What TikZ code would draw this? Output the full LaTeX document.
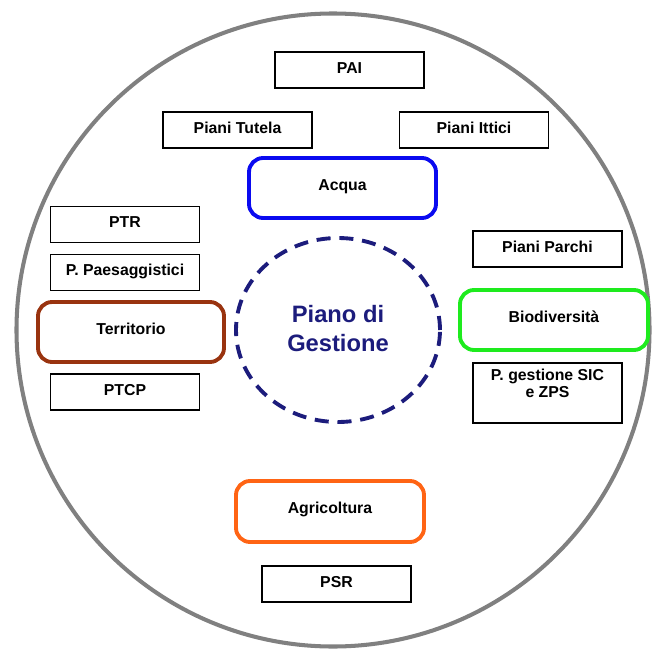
\documentclass[tikz,border=0pt]{standalone}
\usepackage{fontspec}
\setmainfont{Liberation Sans}

\begin{document}
\begin{tikzpicture}[
    plan/.style={draw=black, line width=0.8pt, minimum width=2.98cm, minimum height=0.72cm,
        font=\fontsize{9}{10.5}\selectfont\bfseries, text height=1.9ex, text depth=1.2ex, inner sep=0pt},
    sector/.style={rounded corners=8pt, line width=2.2pt, minimum width=3.74cm, minimum height=1.2cm,
        font=\fontsize{9}{10.5}\selectfont\bfseries, text height=1.9ex, text depth=1.4ex, inner sep=0pt}
]
    \definecolor{ring_gray}{HTML}{808080}
    \definecolor{plan_navy}{HTML}{1C1C7C}
    \definecolor{acqua_blue}{HTML}{0A0AF0}
    \definecolor{terr_brown}{HTML}{99330F}
    \definecolor{bio_green}{HTML}{1EEB1E}
    \definecolor{agri_orange}{HTML}{FF6414}
    %\draw[help lines] (0,0) grid (13,13);
    \useasboundingbox (0,0) rectangle (13.08,12.98);
    \draw[ring_gray, line width=2.3pt] (6.66,6.38) circle (6.33);

    % centre
    \draw[plan_navy, line width=2.2pt, dash pattern=on 8pt off 5pt] (6.76,6.38) ellipse (2.04 and 1.84);
    \node[text=plan_navy, align=center, font=\fontsize{13.5}{16.5}\selectfont\bfseries] (piano) at (6.76,6.40) {Piano di\\Gestione};

    % acqua
    \node[plan] (pai) at (6.99,11.58) {PAI};
    \node[plan] (tutela) at (4.75,10.38) {Piani Tutela};
    \node[plan] (ittici) at (9.48,10.38) {Piani Ittici};
    \node[sector, draw=acqua_blue] (acqua) at (6.85,9.22) {Acqua};

    % territorio
    \node[plan] (ptr) at (2.50,8.49) {PTR};
    \node[plan] (paesag) at (2.50,7.53) {P. Paesaggistici};
    \node[sector, draw=terr_brown, minimum width=3.72cm] (territorio) at (2.62,6.34) {Territorio};
    \node[plan] (ptcp) at (2.50,5.14) {PTCP};

    % biodiversita
    \node[plan] (parchi) at (10.95,8.00) {Piani Parchi};
    \node[sector, draw=bio_green, minimum width=3.76cm] (bio) at (11.08,6.58) {Biodiversità};
    \node[plan, minimum height=1.2cm] (sic) at (10.95,5.12) {};
    \node[anchor=north, align=center, inner sep=0pt, font=\fontsize{9}{10}\selectfont\bfseries] (sictext) at ([yshift=-0.12cm]sic.north) {P. gestione SIC\\e ZPS};

    % agricoltura
    \node[sector, draw=agri_orange, minimum width=3.76cm, minimum height=1.22cm] (agri) at (6.60,2.75) {Agricoltura};
    \node[plan] (psr) at (6.73,1.30) {PSR};
\end{tikzpicture}
\end{document}
